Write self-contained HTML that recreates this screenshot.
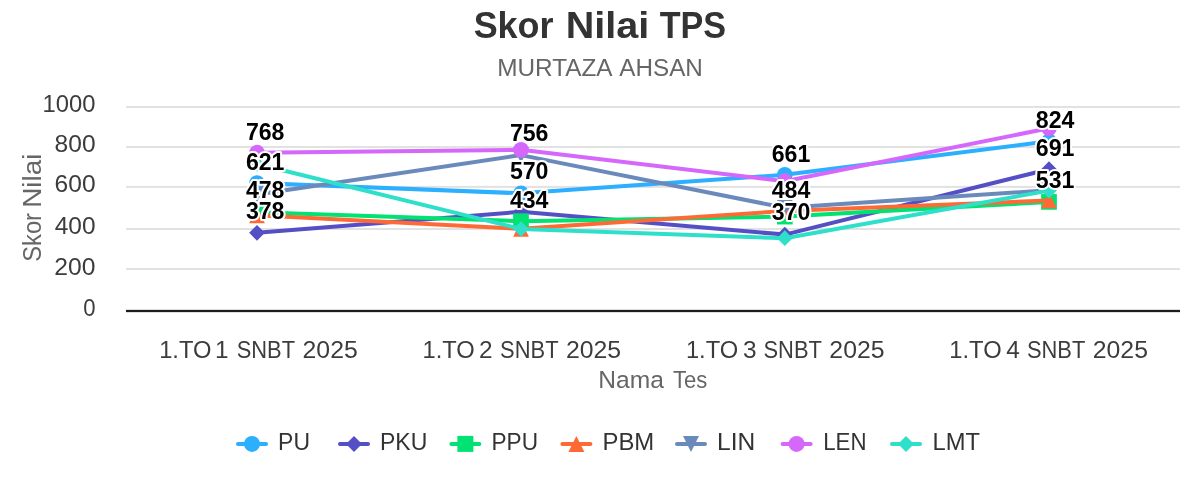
<!DOCTYPE html>
<html lang="id">
<head>
<meta charset="utf-8">
<title>Skor Nilai TPS</title>
<style>
html,body{margin:0;padding:0;background:#fff;}
body{width:1200px;height:500px;overflow:hidden;}
svg{display:block;font-family:"Liberation Sans",sans-serif;}
.dl{font-weight:bold;font-size:23px;fill:#000;stroke:#fff;stroke-width:4px;stroke-linejoin:round;paint-order:stroke fill;}
.yl{font-size:24px;fill:#3c3c3c;}
.xl{font-size:24.4px;fill:#3c3c3c;}
.lg{font-size:24.4px;fill:#333;}
</style>
</head>
<body>
<svg width="1200" height="500" viewBox="0 0 1200 500">
<rect width="1200" height="500" fill="#fff"/>
<text y="37.7" font-size="37.5" font-weight="bold" fill="#333"><tspan x="473.64" textLength="79.87" lengthAdjust="spacingAndGlyphs">Skor</tspan> <tspan x="565.69" textLength="83.56" lengthAdjust="spacingAndGlyphs">Nilai</tspan> <tspan x="659.75" textLength="66.37" lengthAdjust="spacingAndGlyphs">TPS</tspan></text>
<text y="75.5" font-size="24.5" fill="#666"><tspan x="497.24" textLength="114.02" lengthAdjust="spacingAndGlyphs">MURTAZA</tspan> <tspan x="619.25" textLength="83.63" lengthAdjust="spacingAndGlyphs">AHSAN</tspan></text>
<rect x="126" y="106" width="1054" height="2" fill="#e2e2e2"/>
<rect x="126" y="146" width="1054" height="2" fill="#e2e2e2"/>
<rect x="126" y="185.9" width="1054" height="2" fill="#e2e2e2"/>
<rect x="126" y="228" width="1054" height="2" fill="#e2e2e2"/>
<rect x="126" y="268" width="1054" height="2" fill="#e2e2e2"/>
<rect x="126" y="309.85" width="1054" height="2.3" fill="#1c1c1c"/>
<text class="yl" x="42.61" y="111.5" textLength="52.94" lengthAdjust="spacingAndGlyphs">1000</text>
<text class="yl" x="54.58" y="151.8" textLength="40.98" lengthAdjust="spacingAndGlyphs">800</text>
<text class="yl" x="54.58" y="192.0" textLength="40.98" lengthAdjust="spacingAndGlyphs">600</text>
<text class="yl" x="54.7" y="234.2" textLength="40.85" lengthAdjust="spacingAndGlyphs">400</text>
<text class="yl" x="54.37" y="275.0" textLength="41.19" lengthAdjust="spacingAndGlyphs">200</text>
<text class="yl" x="83.2" y="315.6" textLength="12.32" lengthAdjust="spacingAndGlyphs">0</text>
<text transform="translate(41.3 260.8) rotate(-90)" y="0" font-size="25" fill="#666"><tspan x="-0.95" textLength="48.76" lengthAdjust="spacingAndGlyphs">Skor</tspan> <tspan x="52.96" textLength="54.37" lengthAdjust="spacingAndGlyphs">Nilai</tspan></text>
<text class="xl" y="357.8"><tspan x="159.13" textLength="52.32" lengthAdjust="spacingAndGlyphs">1.TO</tspan> <tspan x="214.97">1</tspan> <tspan x="236.71" textLength="58.0" lengthAdjust="spacingAndGlyphs">SNBT</tspan> <tspan x="302.58" textLength="55.19" lengthAdjust="spacingAndGlyphs">2025</tspan></text>
<text class="xl" y="357.8"><tspan x="422.53" textLength="52.32" lengthAdjust="spacingAndGlyphs">1.TO</tspan> <tspan x="479.0">2</tspan> <tspan x="500.11" textLength="58.0" lengthAdjust="spacingAndGlyphs">SNBT</tspan> <tspan x="565.98" textLength="55.19" lengthAdjust="spacingAndGlyphs">2025</tspan></text>
<text class="xl" y="357.8"><tspan x="685.93" textLength="52.32" lengthAdjust="spacingAndGlyphs">1.TO</tspan> <tspan x="742.9">3</tspan> <tspan x="763.51" textLength="58.0" lengthAdjust="spacingAndGlyphs">SNBT</tspan> <tspan x="829.38" textLength="55.19" lengthAdjust="spacingAndGlyphs">2025</tspan></text>
<text class="xl" y="357.8"><tspan x="949.33" textLength="52.32" lengthAdjust="spacingAndGlyphs">1.TO</tspan> <tspan x="1006.3">4</tspan> <tspan x="1026.91" textLength="58.0" lengthAdjust="spacingAndGlyphs">SNBT</tspan> <tspan x="1092.78" textLength="55.19" lengthAdjust="spacingAndGlyphs">2025</tspan></text>
<text y="387.6" font-size="24.5" fill="#666"><tspan x="598.29" textLength="65.53" lengthAdjust="spacingAndGlyphs">Nama</tspan> <tspan x="672.9" textLength="34.33" lengthAdjust="spacingAndGlyphs">Tes</tspan></text>
<polyline points="257,183.1 521,193.3 784.8,174.8 1049,141.2" fill="none" stroke="#2caffe" stroke-width="4" stroke-linejoin="round" stroke-linecap="round"/>
<circle cx="257" cy="183.1" r="7.85" fill="#2caffe"/>
<circle cx="521" cy="193.3" r="7.85" fill="#2caffe"/>
<circle cx="784.8" cy="174.8" r="7.85" fill="#2caffe"/>
<circle cx="1049" cy="141.2" r="7.85" fill="#2caffe"/>
<polyline points="257,232.8 521,211.8 784.8,234.6 1049,169.2" fill="none" stroke="#544fc5" stroke-width="4" stroke-linejoin="round" stroke-linecap="round"/>
<path d="M257 224.95000000000002L264.85 232.8L257 240.65L249.15 232.8Z" fill="#544fc5"/>
<path d="M521 203.95000000000002L528.85 211.8L521 219.65L513.15 211.8Z" fill="#544fc5"/>
<path d="M784.8 226.75L792.65 234.6L784.8 242.45L776.9499999999999 234.6Z" fill="#544fc5"/>
<path d="M1049 161.35L1056.85 169.2L1049 177.04999999999998L1041.15 169.2Z" fill="#544fc5"/>
<polyline points="257,212.2 521,221.2 784.8,216.6 1049,201.9" fill="none" stroke="#00e272" stroke-width="4" stroke-linejoin="round" stroke-linecap="round"/>
<rect x="249.15" y="204.35" width="15.7" height="15.7" fill="#00e272"/>
<rect x="513.15" y="213.35" width="15.7" height="15.7" fill="#00e272"/>
<rect x="776.9499999999999" y="208.75" width="15.7" height="15.7" fill="#00e272"/>
<rect x="1041.15" y="194.05" width="15.7" height="15.7" fill="#00e272"/>
<polyline points="257,215.3 521,228.8 784.8,211.0 1049,200.4" fill="none" stroke="#fe6a35" stroke-width="4" stroke-linejoin="round" stroke-linecap="round"/>
<path d="M257 207.45000000000002L264.85 223.15L249.15 223.15Z" fill="#fe6a35"/>
<path d="M521 220.95000000000002L528.85 236.65L513.15 236.65Z" fill="#fe6a35"/>
<path d="M784.8 203.15L792.65 218.85L776.9499999999999 218.85Z" fill="#fe6a35"/>
<path d="M1049 192.55L1056.85 208.25L1041.15 208.25Z" fill="#fe6a35"/>
<polyline points="257,194.5 521,155.1 784.8,207.8 1049,190.3" fill="none" stroke="#6b8abc" stroke-width="4" stroke-linejoin="round" stroke-linecap="round"/>
<path d="M249.15 186.65L264.85 186.65L257 202.35Z" fill="#6b8abc"/>
<path d="M513.15 147.25L528.85 147.25L521 162.95Z" fill="#6b8abc"/>
<path d="M776.9499999999999 199.95000000000002L792.65 199.95000000000002L784.8 215.65Z" fill="#6b8abc"/>
<path d="M1041.15 182.45000000000002L1056.85 182.45000000000002L1049 198.15Z" fill="#6b8abc"/>
<polyline points="257,152.7 521,149.8 784.8,181.2 1049,128.3" fill="none" stroke="#d568fb" stroke-width="4" stroke-linejoin="round" stroke-linecap="round"/>
<circle cx="257" cy="152.7" r="7.85" fill="#d568fb"/>
<circle cx="521" cy="149.8" r="7.85" fill="#d568fb"/>
<circle cx="784.8" cy="181.2" r="7.85" fill="#d568fb"/>
<circle cx="1049" cy="128.3" r="7.85" fill="#d568fb"/>
<polyline points="257,164.0 521,229.0 784.8,238.2 1049,190.6" fill="none" stroke="#2ee0ca" stroke-width="4" stroke-linejoin="round" stroke-linecap="round"/>
<path d="M257 156.15L264.85 164.0L257 171.85L249.15 164.0Z" fill="#2ee0ca"/>
<path d="M521 221.15L528.85 229.0L521 236.85L513.15 229.0Z" fill="#2ee0ca"/>
<path d="M784.8 230.35L792.65 238.2L784.8 246.04999999999998L776.9499999999999 238.2Z" fill="#2ee0ca"/>
<path d="M1049 182.75L1056.85 190.6L1049 198.45L1041.15 190.6Z" fill="#2ee0ca"/>
<text class="dl" x="245.9" y="139.8" textLength="38.6" lengthAdjust="spacingAndGlyphs">768</text>
<text class="dl" x="245.9" y="169.8" textLength="38.6" lengthAdjust="spacingAndGlyphs">621</text>
<text class="dl" x="245.9" y="198" textLength="38.6" lengthAdjust="spacingAndGlyphs">478</text>
<text class="dl" x="245.9" y="218.5" textLength="38.6" lengthAdjust="spacingAndGlyphs">378</text>
<text class="dl" x="509.9" y="141.3" textLength="38.6" lengthAdjust="spacingAndGlyphs">756</text>
<text class="dl" x="509.9" y="178.8" textLength="38.6" lengthAdjust="spacingAndGlyphs">570</text>
<text class="dl" x="509.9" y="207.7" textLength="38.6" lengthAdjust="spacingAndGlyphs">434</text>
<text class="dl" x="771.7" y="162" textLength="38.6" lengthAdjust="spacingAndGlyphs">661</text>
<text class="dl" x="771.7" y="197.5" textLength="38.6" lengthAdjust="spacingAndGlyphs">484</text>
<text class="dl" x="771.7" y="219.6" textLength="38.6" lengthAdjust="spacingAndGlyphs">370</text>
<text class="dl" x="1035.8" y="127.6" textLength="38.6" lengthAdjust="spacingAndGlyphs">824</text>
<text class="dl" x="1035.8" y="155.9" textLength="38.6" lengthAdjust="spacingAndGlyphs">691</text>
<text class="dl" x="1035.8" y="187.8" textLength="38.6" lengthAdjust="spacingAndGlyphs">531</text>
<line x1="238" y1="443.9" x2="266" y2="443.9" stroke="#2caffe" stroke-width="4" stroke-linecap="round"/>
<circle cx="252" cy="443.9" r="8" fill="#2caffe"/>
<text class="lg" x="278.12" y="449.7" textLength="31.9" lengthAdjust="spacingAndGlyphs">PU</text>
<line x1="340" y1="443.9" x2="368" y2="443.9" stroke="#544fc5" stroke-width="4" stroke-linecap="round"/>
<path d="M354 435.9L362 443.9L354 451.9L346 443.9Z" fill="#544fc5"/>
<text class="lg" x="380.01" y="449.7" textLength="47.31" lengthAdjust="spacingAndGlyphs">PKU</text>
<line x1="451.4" y1="443.9" x2="479.4" y2="443.9" stroke="#00e272" stroke-width="4" stroke-linecap="round"/>
<rect x="457.4" y="435.9" width="16" height="16" fill="#00e272"/>
<text class="lg" x="491.44" y="449.7" textLength="46.55" lengthAdjust="spacingAndGlyphs">PPU</text>
<line x1="562.4" y1="443.9" x2="590.4" y2="443.9" stroke="#fe6a35" stroke-width="4" stroke-linecap="round"/>
<path d="M576.4 435.9L584.4 451.9L568.4 451.9Z" fill="#fe6a35"/>
<text class="lg" x="602.44" y="449.7" textLength="51.85" lengthAdjust="spacingAndGlyphs">PBM</text>
<line x1="677" y1="443.9" x2="705" y2="443.9" stroke="#6b8abc" stroke-width="4" stroke-linecap="round"/>
<path d="M683 435.9L699 435.9L691 451.9Z" fill="#6b8abc"/>
<text class="lg" x="716.98" y="449.7" textLength="38.24" lengthAdjust="spacingAndGlyphs">LIN</text>
<line x1="782.6" y1="443.9" x2="810.6" y2="443.9" stroke="#d568fb" stroke-width="4" stroke-linecap="round"/>
<circle cx="796.6" cy="443.9" r="8" fill="#d568fb"/>
<text class="lg" x="823.17" y="449.7" textLength="43.3" lengthAdjust="spacingAndGlyphs">LEN</text>
<line x1="892" y1="443.9" x2="920" y2="443.9" stroke="#2ee0ca" stroke-width="4" stroke-linecap="round"/>
<path d="M906 435.9L914 443.9L906 451.9L898 443.9Z" fill="#2ee0ca"/>
<text class="lg" x="932.45" y="449.7" textLength="47.45" lengthAdjust="spacingAndGlyphs">LMT</text>
</svg>
</body>
</html>
